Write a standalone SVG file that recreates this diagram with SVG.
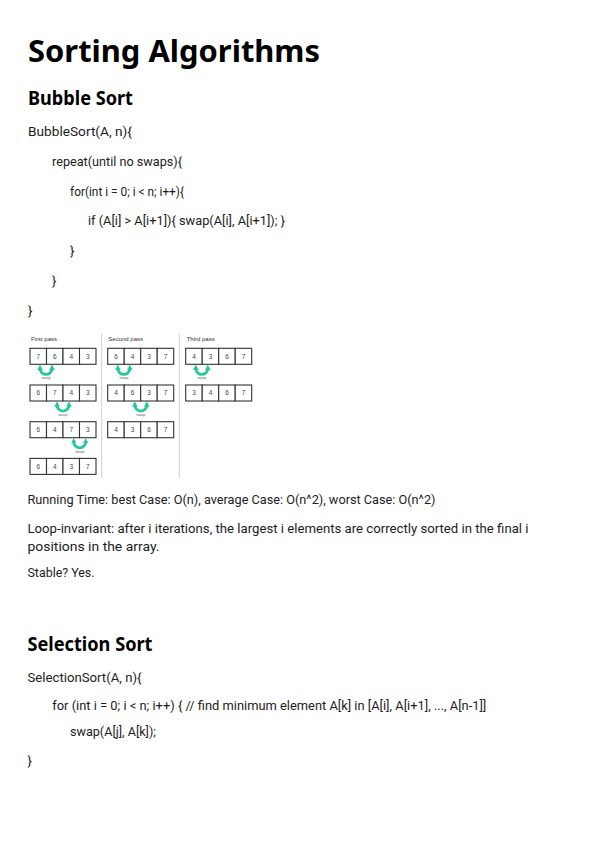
<svg xmlns="http://www.w3.org/2000/svg" width="595" height="841" viewBox="0 0 595 841">
<style>
.title{font-family:"Noto Sans","Open Sans",sans-serif;font-weight:bold;font-size:30px;fill:#000}
.h2{font-family:"Noto Sans","Open Sans",sans-serif;font-weight:bold;font-size:19.5px;fill:#000}
.body{font-family:Roboto,"Liberation Sans",sans-serif;font-size:13px;fill:#1c1c1c}
.lbl{font-family:"Liberation Sans",Arial,sans-serif;font-size:6px;fill:#333}
.num{font-family:"Liberation Sans",Arial,sans-serif;font-size:6.5px;fill:#444;text-anchor:middle}
.sw{font-family:"Liberation Sans",Arial,sans-serif;font-size:4px;fill:#666;text-anchor:middle}
.cell{fill:#fff;stroke:#333;stroke-width:1.1}
.arc{fill:none;stroke:#22c99b;stroke-width:2.8}
.div{stroke:#cfcfcf;stroke-width:1}
</style>
<defs>
<marker id="ah" viewBox="0 0 10 10" refX="3" refY="5" markerWidth="5.5" markerHeight="5.5" markerUnits="userSpaceOnUse" orient="auto-start-reverse">
<path d="M0,0 L10,5 L0,10 z" fill="#22c99b"/>
</marker>
<g id="row">
<rect class="cell" x="0" y="0" width="16.5" height="16"/>
<rect class="cell" x="16.5" y="0" width="16.5" height="16"/>
<rect class="cell" x="33" y="0" width="16.5" height="16"/>
<rect class="cell" x="49.5" y="0" width="16.5" height="16"/>
</g>
<g id="swp">
<path class="arc" d="M-6,1.8 A6 6 0 0 0 6,1.8" marker-start="url(#ah)" marker-end="url(#ah)"/>
<text class="sw" x="0" y="12.5">swap</text>
</g>
</defs>
<rect width="595" height="841" fill="#fff"/>

<g id="title"><text class="title" x="28" y="62" textLength="292" lengthAdjust="spacingAndGlyphs">Sorting Algorithms</text></g>

<g id="bubble-heading"><text class="h2" x="28" y="105" textLength="105" lengthAdjust="spacingAndGlyphs">Bubble Sort</text></g>

<g id="bubble-code">
<text class="body" x="28" y="136" textLength="104" lengthAdjust="spacingAndGlyphs">BubbleSort(A, n){</text>
<text class="body" x="52" y="166" textLength="130" lengthAdjust="spacingAndGlyphs">repeat(until no swaps){</text>
<text class="body" x="70" y="196" textLength="114" lengthAdjust="spacingAndGlyphs">for(int i = 0; i &lt; n; i++){</text>
<text class="body" x="88" y="225" textLength="197" lengthAdjust="spacingAndGlyphs">if (A[i] &gt; A[i+1]){ swap(A[i], A[i+1]); }</text>
<text class="body" x="70" y="255">}</text>
<text class="body" x="52" y="285">}</text>
<text class="body" x="28" y="315">}</text>
</g>

<g id="bubble-diagram">
<g id="dividers">
<line class="div" x1="101.7" y1="334" x2="101.7" y2="478"/>
<line class="div" x1="179.3" y1="334" x2="179.3" y2="478"/>
</g>
<g id="first-pass">
<text class="lbl" x="31" y="341">First pass</text>
<use href="#row" x="30" y="348.3"/>
<text class="num" x="38.25" y="358.6">7</text><text class="num" x="54.75" y="358.6">6</text><text class="num" x="71.25" y="358.6">4</text><text class="num" x="87.75" y="358.6">3</text>
<use href="#swp" x="46" y="366.6"/>
<use href="#row" x="30" y="385"/>
<text class="num" x="38.25" y="395.3">6</text><text class="num" x="54.75" y="395.3">7</text><text class="num" x="71.25" y="395.3">4</text><text class="num" x="87.75" y="395.3">3</text>
<use href="#swp" x="63" y="403.3"/>
<use href="#row" x="30" y="421.7"/>
<text class="num" x="38.25" y="432">6</text><text class="num" x="54.75" y="432">4</text><text class="num" x="71.25" y="432">7</text><text class="num" x="87.75" y="432">3</text>
<use href="#swp" x="79.7" y="440"/>
<use href="#row" x="30" y="458.4"/>
<text class="num" x="38.25" y="468.7">6</text><text class="num" x="54.75" y="468.7">4</text><text class="num" x="71.25" y="468.7">3</text><text class="num" x="87.75" y="468.7">7</text>
</g>
<g id="second-pass">
<text class="lbl" x="108.3" y="341">Second pass</text>
<use href="#row" x="107.7" y="348.3"/>
<text class="num" x="115.95" y="358.6">6</text><text class="num" x="132.45" y="358.6">4</text><text class="num" x="148.95" y="358.6">3</text><text class="num" x="165.45" y="358.6">7</text>
<use href="#swp" x="123.8" y="366.6"/>
<use href="#row" x="107.7" y="385"/>
<text class="num" x="115.95" y="395.3">4</text><text class="num" x="132.45" y="395.3">6</text><text class="num" x="148.95" y="395.3">3</text><text class="num" x="165.45" y="395.3">7</text>
<use href="#swp" x="140.8" y="403.3"/>
<use href="#row" x="107.7" y="421.7"/>
<text class="num" x="115.95" y="432">4</text><text class="num" x="132.45" y="432">3</text><text class="num" x="148.95" y="432">6</text><text class="num" x="165.45" y="432">7</text>
</g>
<g id="third-pass">
<text class="lbl" x="186.7" y="341">Third pass</text>
<use href="#row" x="185.7" y="348.3"/>
<text class="num" x="193.95" y="358.6">4</text><text class="num" x="210.45" y="358.6">3</text><text class="num" x="226.95" y="358.6">6</text><text class="num" x="243.45" y="358.6">7</text>
<use href="#swp" x="201.8" y="366.6"/>
<use href="#row" x="185.7" y="385"/>
<text class="num" x="193.95" y="395.3">3</text><text class="num" x="210.45" y="395.3">4</text><text class="num" x="226.95" y="395.3">6</text><text class="num" x="243.45" y="395.3">7</text>
</g>
</g>

<g id="bubble-notes">
<text class="body" x="27.5" y="504" textLength="408" lengthAdjust="spacingAndGlyphs">Running Time: best Case: O(n), average Case: O(n^2), worst Case: O(n^2)</text>
<text class="body" x="27.5" y="533" textLength="501" lengthAdjust="spacingAndGlyphs">Loop-invariant: after i iterations, the largest i elements are correctly sorted in the final i</text>
<text class="body" x="27.5" y="551" textLength="132" lengthAdjust="spacingAndGlyphs">positions in the array.</text>
<text class="body" x="27.5" y="577" textLength="67" lengthAdjust="spacingAndGlyphs">Stable? Yes.</text>
</g>

<g id="selection-heading"><text class="h2" x="27.5" y="651" textLength="125" lengthAdjust="spacingAndGlyphs">Selection Sort</text></g>

<g id="selection-code">
<text class="body" x="27.5" y="682" textLength="114" lengthAdjust="spacingAndGlyphs">SelectionSort(A, n){</text>
<text class="body" x="52.3" y="710" textLength="434" lengthAdjust="spacingAndGlyphs">for (int i = 0; i &lt; n; i++) { // find minimum element A[k] in [A[i], A[i+1], ..., A[n-1]]</text>
<text class="body" x="70" y="736" textLength="86" lengthAdjust="spacingAndGlyphs">swap(A[j], A[k]);</text>
<text class="body" x="27.5" y="765">}</text>
</g>
</svg>
